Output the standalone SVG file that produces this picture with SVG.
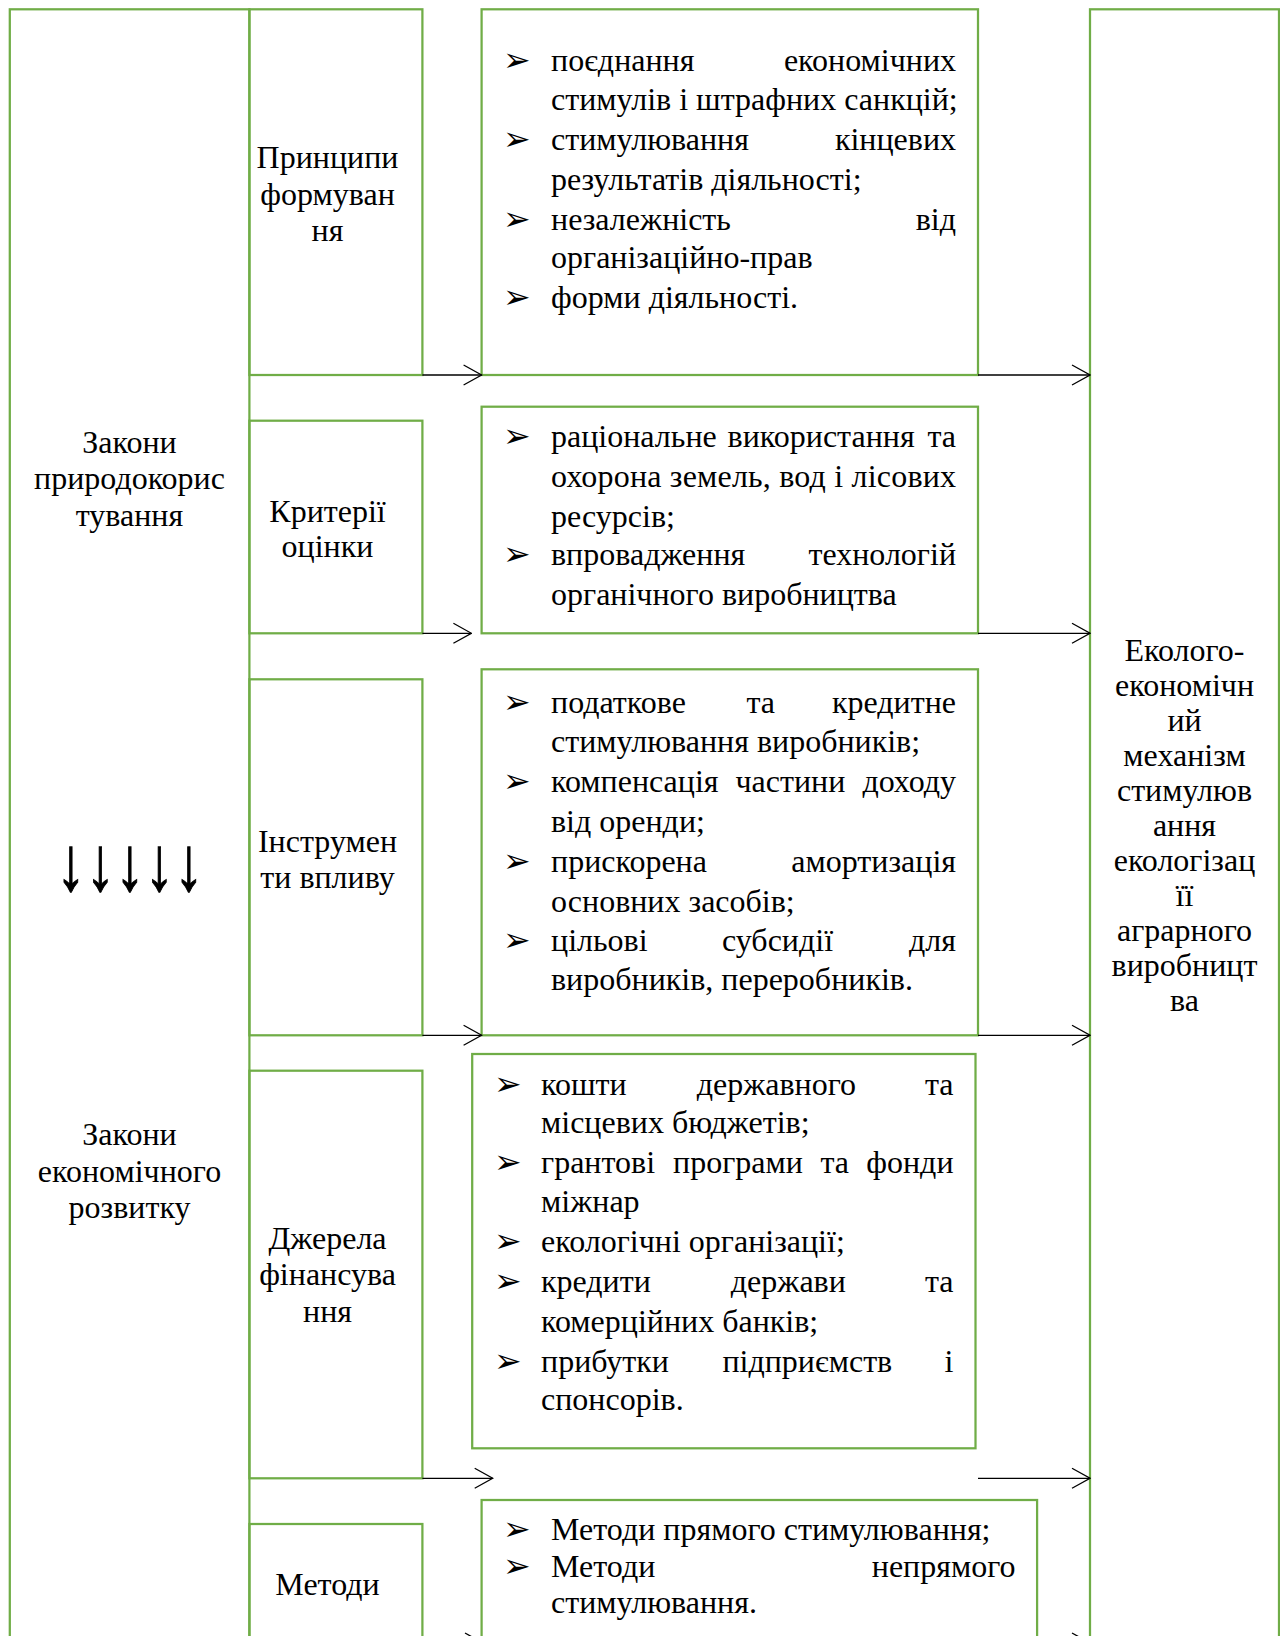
<svg xmlns="http://www.w3.org/2000/svg" width="1280" height="1636" viewBox="0 0 1280 1636">
<style>
.box{fill:none;stroke:#70AD47;stroke-width:2.25}
.t{font-family:"Liberation Serif","Times New Roman",serif;font-size:32px;fill:#000}
.c{text-anchor:middle}
.e{text-anchor:end}
.b{font-family:"DejaVu Sans",sans-serif;font-size:33px;fill:#000}
.conn{stroke:#000;stroke-width:1.3;fill:none}
.arr{font-family:"Liberation Serif","Times New Roman",serif;font-size:59px;fill:#000;stroke:#000;stroke-width:0.8}
</style>
<defs>
<marker id="ah" viewBox="0 0 20 22" refX="19" refY="11" markerWidth="20" markerHeight="22" markerUnits="userSpaceOnUse" orient="auto">
<path d="M1,1 L19,11 L1,21" fill="none" stroke="#000" stroke-width="1.3"/>
</marker>
</defs>
<rect width="1280" height="1636" fill="#fff"/>

<g id="laws">
<rect class="box" x="9.8" y="9.3" width="239.6" height="1700"/>
<text class="t c" x="129.5" y="453">Закони</text>
<text class="t c" x="129.5" y="489">природокорис</text>
<text class="t c" x="129.5" y="526">тування</text>
<text class="arr" transform="translate(56 890) scale(1 1.3)" x="0" y="0">↓↓↓↓↓</text>
<text class="t c" x="129.5" y="1145">Закони</text>
<text class="t c" x="129.5" y="1182">економічного</text>
<text class="t c" x="129.5" y="1218">розвитку</text>
</g>

<g id="principles">
<rect class="box" x="249.4" y="9.3" width="173" height="365.7"/>
<text class="t c" x="327.5" y="168">Принципи</text>
<text class="t c" x="327.5" y="205">формуван</text>
<text class="t c" x="327.5" y="241">ня</text>
</g>

<g id="criteria">
<rect class="box" x="249.4" y="420.7" width="173" height="212.6"/>
<text class="t c" x="327.5" y="522">Критерії</text>
<text class="t c" x="327.5" y="557">оцінки</text>
</g>

<g id="instruments">
<rect class="box" x="249.4" y="679.3" width="173" height="356"/>
<text class="t c" x="327.5" y="852">Інструмен</text>
<text class="t c" x="327.5" y="888">ти впливу</text>
</g>

<g id="sources">
<rect class="box" x="249.4" y="1070.7" width="173" height="407.6"/>
<text class="t c" x="327.5" y="1249">Джерела</text>
<text class="t c" x="327.5" y="1285">фінансува</text>
<text class="t c" x="327.5" y="1322">ння</text>
</g>

<g id="methods">
<rect class="box" x="249.4" y="1524" width="173" height="200"/>
<text class="t c" x="327.5" y="1595">Методи</text>
</g>

<g id="principles-list">
<rect class="box" x="481.6" y="9.3" width="496.4" height="365.7"/>
<text class="b" x="503" y="71">➢</text>
<text class="t" x="551" y="71">поєднання</text>
<text class="t e" x="956" y="71">економічних</text>
<text class="t" x="551" y="110">стимулів і штрафних санкцій;</text>
<text class="b" x="503" y="150">➢</text>
<text class="t" x="551" y="150">стимулювання</text>
<text class="t e" x="956" y="150">кінцевих</text>
<text class="t" x="551" y="190">результатів діяльності;</text>
<text class="b" x="503" y="230">➢</text>
<text class="t" x="551" y="230">незалежність</text>
<text class="t e" x="956" y="230">від</text>
<text class="t" x="551" y="268">організаційно-прав</text>
<text class="b" x="503" y="308">➢</text>
<text class="t" x="551" y="308">форми діяльності.</text>
</g>

<g id="criteria-list">
<rect class="box" x="481.6" y="406.7" width="496.4" height="226.6"/>
<text class="b" x="503" y="447">➢</text>
<text class="t" x="551" y="447">раціональне</text>
<text class="t" x="727.6" y="447">використання</text>
<text class="t e" x="956" y="447">та</text>
<text class="t" x="551" y="487" textLength="405" lengthAdjust="spacing">охорона земель, вод і лісових</text>
<text class="t" x="551" y="527">ресурсів;</text>
<text class="b" x="503" y="565">➢</text>
<text class="t" x="551" y="565">впровадження</text>
<text class="t e" x="956" y="565">технологій</text>
<text class="t" x="551" y="605">органічного виробництва</text>
</g>

<g id="instruments-list">
<rect class="box" x="481.6" y="669.3" width="496.4" height="366"/>
<text class="b" x="503" y="713">➢</text>
<text class="t" x="551" y="713">податкове</text>
<text class="t" x="746.4" y="713">та</text>
<text class="t e" x="956" y="713">кредитне</text>
<text class="t" x="551" y="752">стимулювання виробників;</text>
<text class="b" x="503" y="792">➢</text>
<text class="t" x="551" y="792">компенсація</text>
<text class="t" x="735.4" y="792">частини</text>
<text class="t e" x="956" y="792">доходу</text>
<text class="t" x="551" y="832">від оренди;</text>
<text class="b" x="503" y="872">➢</text>
<text class="t" x="551" y="872">прискорена</text>
<text class="t e" x="956" y="872">амортизація</text>
<text class="t" x="551" y="912">основних засобів;</text>
<text class="b" x="503" y="951">➢</text>
<text class="t" x="551" y="951">цільові</text>
<text class="t" x="722" y="951">субсидії</text>
<text class="t e" x="956" y="951">для</text>
<text class="t" x="551" y="990">виробників, переробників.</text>
</g>

<g id="sources-list">
<rect class="box" x="472.2" y="1054" width="503.3" height="394.3"/>
<text class="b" x="494" y="1095">➢</text>
<text class="t" x="541" y="1095">кошти</text>
<text class="t" x="696.7" y="1095">державного</text>
<text class="t e" x="953.5" y="1095">та</text>
<text class="t" x="541" y="1133">місцевих бюджетів;</text>
<text class="b" x="494" y="1173">➢</text>
<text class="t" x="541" y="1173">грантові</text>
<text class="t" x="673" y="1173">програми</text>
<text class="t" x="820.4" y="1173">та</text>
<text class="t e" x="953.5" y="1173">фонди</text>
<text class="t" x="541" y="1212">міжнар</text>
<text class="b" x="494" y="1252">➢</text>
<text class="t" x="541" y="1252">екологічні організації;</text>
<text class="b" x="494" y="1292">➢</text>
<text class="t" x="541" y="1292">кредити</text>
<text class="t" x="730.8" y="1292">держави</text>
<text class="t e" x="953.5" y="1292">та</text>
<text class="t" x="541" y="1332">комерційних банків;</text>
<text class="b" x="494" y="1372">➢</text>
<text class="t" x="541" y="1372">прибутки</text>
<text class="t" x="722.4" y="1372">підприємств</text>
<text class="t e" x="953.5" y="1372">і</text>
<text class="t" x="541" y="1410">спонсорів.</text>
</g>

<g id="methods-list">
<rect class="box" x="481.6" y="1500" width="555.5" height="220"/>
<text class="b" x="503" y="1540">➢</text>
<text class="t" x="551" y="1540">Методи прямого стимулювання;</text>
<text class="b" x="503" y="1577">➢</text>
<text class="t" x="551" y="1577">Методи</text>
<text class="t e" x="1015.5" y="1577">непрямого</text>
<text class="t" x="551" y="1613">стимулювання.</text>
</g>

<g id="mechanism">
<rect class="box" x="1090" y="9.3" width="189" height="1700"/>
<text class="t c" x="1184.5" y="661">Еколого-</text>
<text class="t c" x="1184.5" y="696">економічн</text>
<text class="t c" x="1184.5" y="731">ий</text>
<text class="t c" x="1184.5" y="766">механізм</text>
<text class="t c" x="1184.5" y="801">стимулюв</text>
<text class="t c" x="1184.5" y="836">ання</text>
<text class="t c" x="1184.5" y="871">екологізац</text>
<text class="t c" x="1184.5" y="906">її</text>
<text class="t c" x="1184.5" y="941">аграрного</text>
<text class="t c" x="1184.5" y="976">виробницт</text>
<text class="t c" x="1184.5" y="1011">ва</text>
</g>

<g id="connectors">
<line class="conn" x1="422.4" y1="375" x2="481.6" y2="375" marker-end="url(#ah)"/>
<line class="conn" x1="978" y1="375" x2="1090" y2="375" marker-end="url(#ah)"/>
<line class="conn" x1="422.4" y1="633.3" x2="471.4" y2="633.3" marker-end="url(#ah)"/>
<line class="conn" x1="978" y1="633.3" x2="1090" y2="633.3" marker-end="url(#ah)"/>
<line class="conn" x1="422.4" y1="1035.3" x2="481.6" y2="1035.3" marker-end="url(#ah)"/>
<line class="conn" x1="978" y1="1035.3" x2="1090" y2="1035.3" marker-end="url(#ah)"/>
<line class="conn" x1="422.4" y1="1478.3" x2="492.7" y2="1478.3" marker-end="url(#ah)"/>
<line class="conn" x1="978" y1="1478.3" x2="1090" y2="1478.3" marker-end="url(#ah)"/>
<line class="conn" x1="422.4" y1="1643" x2="483" y2="1643" marker-end="url(#ah)"/>
<line class="conn" x1="1037" y1="1643" x2="1090" y2="1643" marker-end="url(#ah)"/>
</g>
</svg>
